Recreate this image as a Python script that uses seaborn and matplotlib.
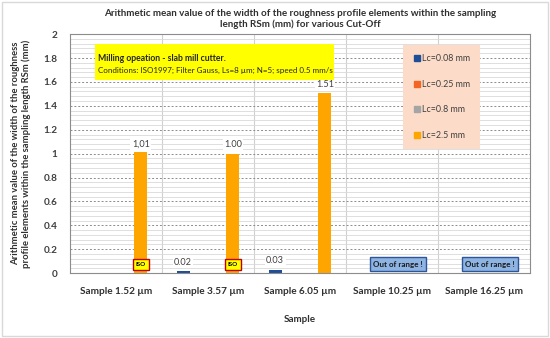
import numpy as np
import pandas as pd
import matplotlib.pyplot as plt
import seaborn as sns
from matplotlib.patches import Rectangle
from matplotlib.lines import Line2D

samples = ['Sample 1.52 µm', 'Sample 3.57 µm', 'Sample 6.05 µm', 'Sample 10.25 µm', 'Sample 16.25 µm']
cutoffs = ['Lc=0.08 mm', 'Lc=0.25 mm', 'Lc=0.8 mm', 'Lc=2.5 mm']
rsm_008 = [0.0, 0.02, 0.03, 0.0, 0.0]
rsm_025 = [0.0, 0.0, 0.0, 0.0, 0.0]
rsm_08 = [0.0, 0.0, 0.0, 0.0, 0.0]
rsm_25 = [1.01, 1.00, 1.51, 0.0, 0.0]
labels_008 = ['', '0.02', '0.03', '', '']
labels_25 = ['1,01', '1.00', '1.51', '', '']
iso_samples = [0, 1]
out_of_range = [3, 4]
colors = ['#1F4E99', '#F26522', '#A5A5A5', '#FFA500']

df = pd.DataFrame({
    'sample': samples * 4,
    'cutoff': np.repeat(cutoffs, len(samples)),
    'rsm': rsm_008 + rsm_025 + rsm_08 + rsm_25,
})

sns.set_style('white')
plt.rcParams['font.family'] = ['Lato', 'DejaVu Sans']

fig = plt.figure(figsize=(5.5, 3.38), dpi=100)
ax = fig.add_axes([0.127, 0.192, 0.837, 0.707])

sns.barplot(data=df, x='sample', y='rsm', hue='cutoff', palette=colors, saturation=1,
            width=0.72, gap=0.22, linewidth=0, legend=False, ax=ax)

ax.set_ylim(0, 2)
ax.set_xlim(-0.5, 4.5)
ax.set_yticks(np.arange(0, 2.01, 0.2))
ax.set_yticklabels(['0', '0.2', '0.4', '0.6', '0.8', '1', '1.2', '1.4', '1.6', '1.8', '2'],
                   fontsize=7.2, fontweight='bold', color='#404040')
ax.set_yticks(np.arange(0, 2.01, 0.04), minor=True)
ax.set_xticks(range(len(samples)))
ax.set_xticklabels(samples, fontsize=7.2, fontweight='bold', color='#303030')
ax.tick_params(axis='y', length=0, pad=9)
ax.tick_params(axis='x', length=0, pad=10)
ax.tick_params(axis='y', which='minor', length=0)

ax.grid(axis='y', which='minor', color='#d9d9d9', lw=0.6, ls='-')
ax.grid(axis='y', which='major', color='#8c8c8c', lw=0.7, ls=(0, (2, 2)))
for b in np.arange(0.5, 4.5, 1):
    ax.axvline(b, color='#d0d0d0', lw=0.8, zorder=0)
ax.set_axisbelow(True)
for s in ax.spines.values():
    s.set_color('#8c8c8c')
    s.set_linewidth(0.8)

bbox_lbl = dict(boxstyle='square,pad=0.15', fc='white', ec='none')
t1 = ax.bar_label(ax.containers[0], labels=labels_008, fontsize=6.6, color='#404040', padding=3)
t4 = ax.bar_label(ax.containers[3], labels=labels_25, fontsize=6.6, color='#404040', padding=3)
for t in list(t1) + list(t4):
    t.set_bbox(bbox_lbl)

for i in iso_samples:
    p = ax.containers[3][i]
    ax.text(p.get_x() + p.get_width() / 2, 0.07, 'ISO', ha='center', va='center',
            fontsize=4.5, fontweight='bold', color='black',
            bbox=dict(boxstyle='square,pad=0.45', fc='#FFFF00', ec='#C00000', lw=1))
for i in out_of_range:
    ax.text(i + 0.06, 0.075, 'Out of range !', ha='center', va='center',
            fontsize=5.8, fontweight='bold', color='#1a1a1a',
            bbox=dict(boxstyle='square,pad=0.4', fc='#8EB4E3', ec='#2E5597', lw=1))

ax.text(0.062, 0.9, 'Milling opeation - slab mill cutter.', transform=ax.transAxes,
        fontsize=6.2, fontweight='bold', va='center', zorder=5)
ax.text(0.062, 0.85, 'Conditions: ISO1997; Filter Gauss, Ls=8 µm; N=5; speed 0.5 mm/s',
        transform=ax.transAxes, fontsize=5.8, va='center', color='#262626', zorder=5)
ax.add_patch(Rectangle((0.054, 0.81), 0.52, 0.15, transform=ax.transAxes,
                       fc='#FFFF00', ec='none', zorder=4))

handles = [Line2D([], [], marker='s', ls='none', color=c, markersize=4.5) for c in colors]
leg = ax.legend(handles, cutoffs, loc='upper left', bbox_to_anchor=(0.715, 0.975),
                fontsize=6.4, labelspacing=1.85, handletextpad=0.2, borderpad=1.1,
                fancybox=False, frameon=True, handlelength=0.8)
leg.get_frame().set_facecolor('#FCDCC8')
leg.get_frame().set_edgecolor('none')
leg.get_frame().set_alpha(1)
for t in leg.get_texts():
    t.set_color('#404040')

ax.set_title('Arithmetic mean value of the width of the roughness profile elements within the sampling\n'
             'length RSm (mm) for various Cut-Off', fontsize=7.1, fontweight='bold',
             color='#303030', pad=5)
ax.set_xlabel('Sample', fontsize=7.1, fontweight='bold', color='#303030', labelpad=14)
ax.set_ylabel('Arithmetic mean value of the width of the roughness\n'
              'profile elements within the sampling length RSm (mm)',
              fontsize=6.8, fontweight='bold', color='#303030', labelpad=9)

fig.patches.append(Rectangle((0.004, 0.006), 0.992, 0.988, transform=fig.transFigure,
                             fill=False, ec='#d9d9d9', lw=1))

fig.savefig('out.png', dpi=100)
